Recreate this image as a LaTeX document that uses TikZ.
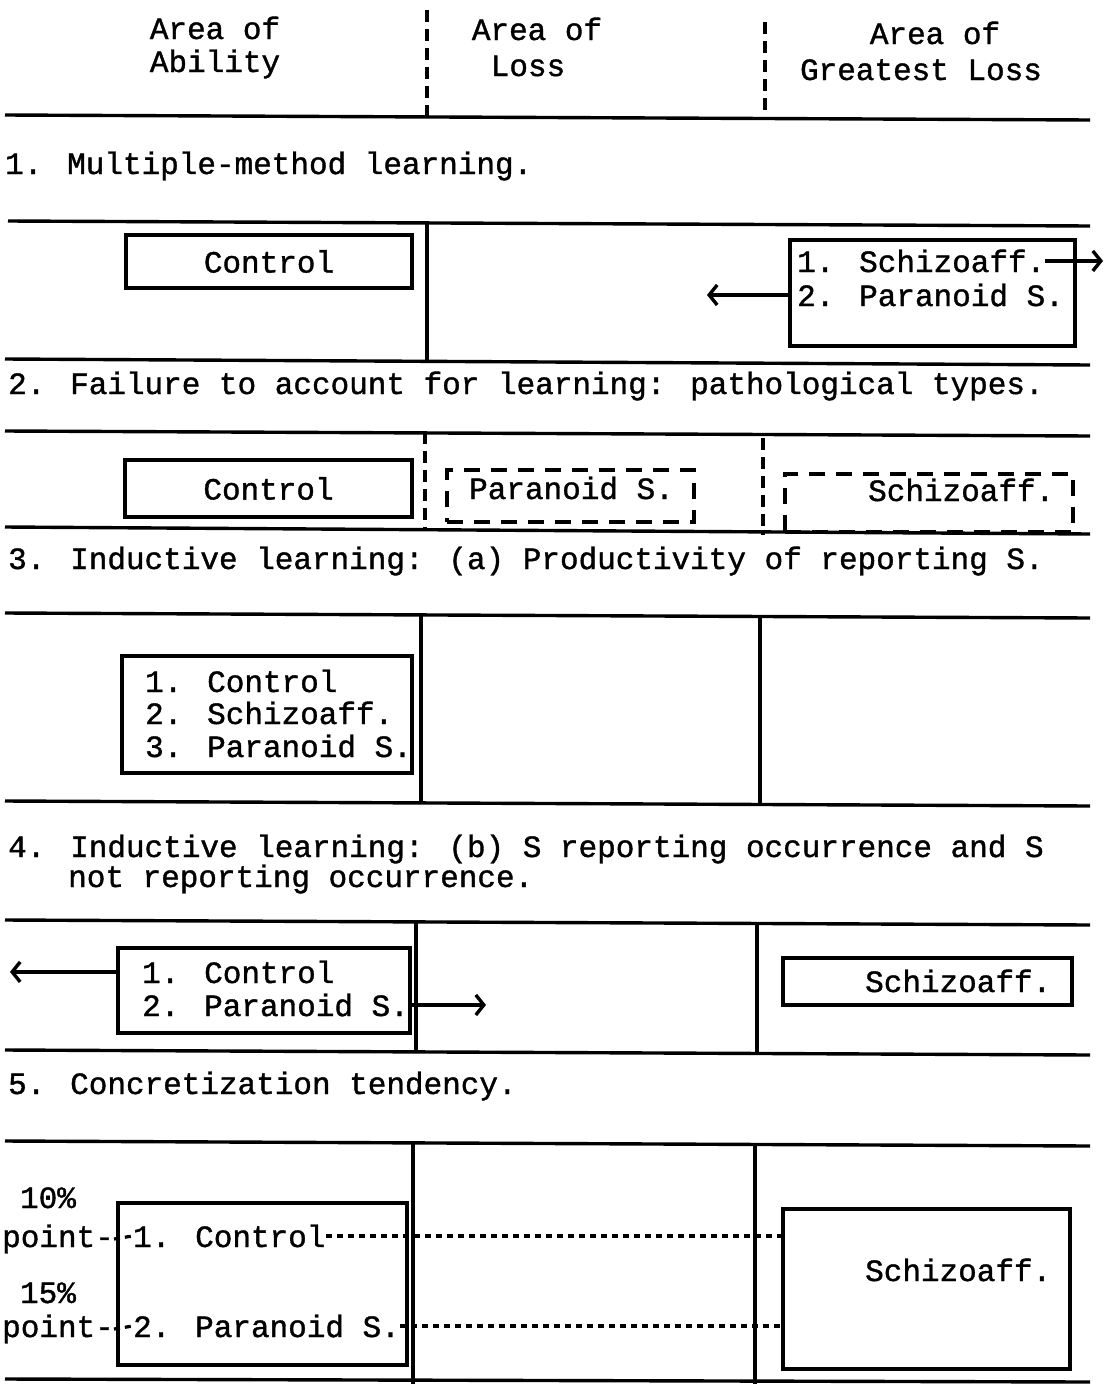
\documentclass[tikz,border=0pt]{standalone}
\usepackage{fontspec}
\setmainfont{Liberation Mono}[FakeBold=1.2]
\usetikzlibrary{arrows.meta}
\begin{document}
\begin{tikzpicture}[x=1pt,y=-1pt,
  every node/.style={font=\fontsize{31}{33}\selectfont, inner sep=0pt},
  rule/.style={line width=3.4pt},
  vline/.style={line width=3.2pt},
  hdash/.style={line width=3.2pt, dash pattern=on 12pt off 7pt},
  boxd/.style={draw, line width=3.4pt, rectangle},
  dbox/.style={draw, line width=3.4pt, rectangle, dash pattern=on 16pt off 11pt},
  txt/.style={anchor=base west},
  ctxt/.style={anchor=base},
  arr/.style={line width=3.4pt, -{Straight Barb[length=8pt,width=20pt,line width=3.4pt]}},
  dots/.style={line width=3.2pt, dash pattern=on 6pt off 5pt},
]
\useasboundingbox (0,0) rectangle (1111,1384);

% ---------- header ----------
\node[ctxt] (h1a) at (215,39) {Area of};
\node[ctxt] (h1b) at (215,72) {Ability};
\node[ctxt] (h2a) at (537,40) {Area of};
\node[ctxt] (h2b) at (528,76) {Loss};
\node[ctxt] (h3a) at (935,44) {Area of};
\node[ctxt] (h3b) at (921,80) {Greatest Loss};
\draw[hdash] (427,10) -- (427,116);
\draw[hdash] (765,22) -- (765,119);
\draw[rule] (5,115) -- (1090,120);

% ---------- section 1 ----------
\node[txt] (t1) at (5,174) {1. Multiple-method learning.};
\draw[rule] (8,221) -- (1090,226);
\draw[rule] (5,359) -- (1090,365);
\draw[vline] (427,222) -- (427,361);
\node[boxd, minimum width=286pt, minimum height=53pt] (c1) at (269,261.5) {Control};
\node[boxd, minimum width=285pt, minimum height=106pt] (b1) at (932.5,293) {};
\node[txt] (b1a) at (797,272) {1. Schizoaff.};
\node[txt] (b1b) at (797,306) {2. Paranoid S.};
\coordinate (r1) at (1103,0);
\coordinate (l1) at (707,0);
\draw[arr] (b1a.east) -- (r1 |- b1a.east);
\draw[arr] (b1.west |- b1b.west) -- (l1 |- b1b.west);

% ---------- section 2 ----------
\node[txt] (t2) at (8,394) {2. Failure to account for learning: pathological types.};
\draw[rule] (5,431) -- (1090,436);
\draw[rule] (5,527) -- (1090,534);
\draw[hdash] (425,432) -- (425,530);
\draw[hdash] (763,438) -- (763,535);
\node[boxd, minimum width=287pt, minimum height=57pt] (c2) at (268.5,488.5) {Control};
\node[dbox, minimum width=247pt, minimum height=52pt] (p2) at (570.5,496) {};
\node[txt] (p2t) at (469,499) {Paranoid S.};
\node[dbox, minimum width=288pt, minimum height=58pt] (s2) at (929,503) {};
\node[txt] (s2t) at (868,501) {Schizoaff.};

% ---------- section 3 ----------
\node[txt] (t3) at (8,569) {3. Inductive learning: (a) Productivity of reporting S.};
\draw[rule] (5,613) -- (1090,618);
\draw[rule] (5,801) -- (1090,806);
\draw[vline] (421,614) -- (421,803);
\draw[vline] (760,617) -- (760,806);
\node[boxd, minimum width=290pt, minimum height=117pt] (b3) at (267,714.5) {};
\node[txt] (b3a) at (145,692) {1. Control};
\node[txt] (b3b) at (145,724) {2. Schizoaff.};
\node[txt] (b3c) at (145,757) {3. Paranoid S.};

% ---------- section 4 ----------
\node[txt] (t4a) at (8,857) {4. Inductive learning: (b) S reporting occurrence and S};
\node[txt] (t4b) at (68,887) {not reporting occurrence.};
\draw[rule] (5,920) -- (1090,925);
\draw[rule] (5,1050) -- (1090,1055);
\draw[vline] (416,921) -- (416,1053);
\draw[vline] (757,925) -- (757,1055);
\node[boxd, minimum width=292pt, minimum height=85pt] (b4) at (264,990.5) {};
\node[txt] (b4a) at (142,983) {1. Control};
\node[txt] (b4b) at (142,1016) {2. Paranoid S.};
\coordinate (l4) at (10,0);
\coordinate (r4) at (486,0);
\draw[arr] (b4.west |- b4a.west) -- (l4 |- b4a.west);
\draw[arr] (b4b.east) -- (r4 |- b4b.east);
\node[boxd, minimum width=289pt, minimum height=47pt] (s4) at (927.5,981.5) {};
\node[txt] (s4t) at (865,992) {Schizoaff.};

% ---------- section 5 ----------
\node[txt] (t5) at (8,1094) {5. Concretization tendency.};
\draw[rule] (5,1141) -- (1090,1146);
\draw[rule] (5,1379) -- (1090,1382);
\draw[vline] (413,1142) -- (413,1384);
\draw[vline] (755,1145) -- (755,1384);
\node[boxd, minimum width=289pt, minimum height=162pt] (b5) at (262.5,1284) {};
\node[ctxt] (p10) at (48,1208) {10\%};
\node[txt] (pt1) at (2,1247) {point-};
\node[txt] (c5) at (133,1247) {1. Control};
\node[ctxt] (p15) at (48,1303) {15\%};
\node[txt] (pt2) at (2,1337) {point-};
\node[txt] (pa5) at (133,1337) {2. Paranoid S.};
\node[boxd, minimum width=287pt, minimum height=160pt] (s5) at (926.5,1289) {};
\node[txt] (s5t) at (865,1281) {Schizoaff.};
\draw[dots] (pt1.east) -- (c5.west);
\draw[dots] (pt2.east) -- (pa5.west);
\draw[dots] (c5.east) -- (s5.west |- c5.east);
\draw[dots] (pa5.east) -- (s5.west |- pa5.east);

\end{tikzpicture}
\end{document}
